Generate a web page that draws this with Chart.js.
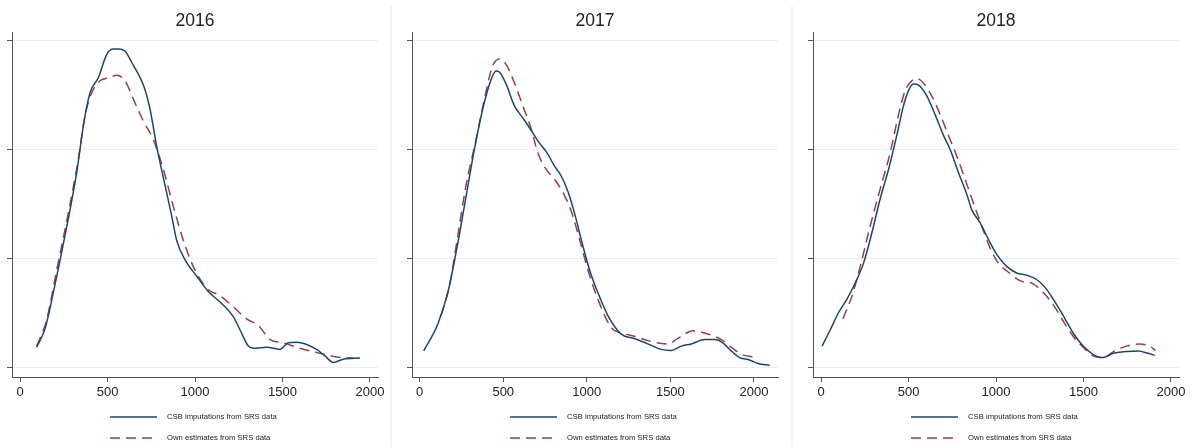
<!DOCTYPE html>
<html>
<head>
<meta charset="utf-8">
<script src="https://cdn.jsdelivr.net/npm/chart.js@4.4.1/dist/chart.umd.min.js"></script>
<style>
  html, body { margin: 0; padding: 0; background: #fff; }
  #wrap { position: relative; width: 1193px; height: 447px; overflow: hidden; }
  .panel { position: absolute; top: 0; height: 447px; }
  .sep { position: absolute; top: 6px; width: 2px; height: 441px; background: #eef3f4; }
</style>
</head>
<body>
<div id="wrap">
  <div class="panel" style="left:0;width:390px"><canvas id="c2016" width="390" height="447"></canvas></div>
  <div class="sep" style="left:390px"></div>
  <div class="panel" style="left:392px;width:399px"><canvas id="c2017" width="399" height="447"></canvas></div>
  <div class="sep" style="left:791px"></div>
  <div class="panel" style="left:793px;width:400px"><canvas id="c2018" width="400" height="447"></canvas></div>
</div>
<script>
// ==== Data (density curves, y in arbitrary units: gridlines at 0,1,2,3) ====
const years = ['2016', '2017', '2018'];
const seriesNames = ['CSB imputations from SRS data', 'Own estimates from SRS data'];
const xTicks = [0, 500, 1000, 1500, 2000];
const yTicks = [0, 1, 2, 3];

// 2016
const csbX2016 = [95, 143, 190, 248, 324, 362, 400, 448, 495, 533, 562, 600, 648, 686, 714, 743, 781, 829, 867, 895, 943, 1010, 1076, 1152, 1219, 1257, 1305, 1333, 1410, 1486, 1533, 1581, 1695, 1743, 1790, 1848, 1943];
const csbY2016 = [0.19, 0.36, 0.69, 1.14, 1.79, 2.22, 2.52, 2.66, 2.87, 2.92, 2.92, 2.90, 2.77, 2.66, 2.55, 2.37, 2.03, 1.67, 1.39, 1.17, 0.99, 0.84, 0.70, 0.59, 0.47, 0.35, 0.20, 0.18, 0.19, 0.17, 0.23, 0.235, 0.17, 0.11, 0.05, 0.08, 0.09];
const ownX2016 = [95, 152, 210, 276, 333, 371, 410, 457, 514, 552, 600, 648, 705, 762, 819, 876, 933, 990, 1067, 1143, 1219, 1295, 1362, 1429, 1505, 1600, 1714, 1810, 1905];
const ownY2016 = [0.20, 0.44, 0.90, 1.42, 1.91, 2.31, 2.52, 2.63, 2.66, 2.68, 2.63, 2.46, 2.26, 2.09, 1.82, 1.48, 1.17, 0.93, 0.73, 0.66, 0.56, 0.45, 0.39, 0.26, 0.23, 0.18, 0.135, 0.10, 0.09];

// 2017
const csbX2017 = [24, 108, 168, 218, 267, 327, 377, 427, 457, 477, 517, 567, 617, 657, 707, 766, 806, 846, 886, 926, 966, 1016, 1066, 1126, 1206, 1285, 1365, 1445, 1505, 1565, 1625, 1705, 1764, 1814, 1864, 1914, 1974, 2024, 2094];
const csbY2017 = [0.156, 0.40, 0.69, 1.06, 1.48, 2.00, 2.37, 2.64, 2.72, 2.71, 2.60, 2.40, 2.29, 2.20, 2.08, 1.96, 1.85, 1.76, 1.62, 1.42, 1.18, 0.90, 0.69, 0.48, 0.31, 0.27, 0.22, 0.17, 0.16, 0.20, 0.22, 0.26, 0.26, 0.23, 0.156, 0.095, 0.073, 0.04, 0.024];
const ownX2017 = [128, 178, 228, 277, 337, 387, 437, 477, 517, 567, 617, 667, 707, 756, 806, 856, 906, 956, 1006, 1066, 1146, 1206, 1285, 1365, 1485, 1545, 1635, 1725, 1804, 1864, 1924, 1994];
const ownY2017 = [0.48, 0.75, 1.21, 1.67, 2.09, 2.46, 2.77, 2.83, 2.78, 2.61, 2.40, 2.19, 1.97, 1.82, 1.73, 1.61, 1.44, 1.18, 0.90, 0.63, 0.37, 0.32, 0.29, 0.25, 0.22, 0.27, 0.34, 0.31, 0.26, 0.19, 0.125, 0.10];

// 2018
const csbX2018 = [6, 53, 101, 148, 196, 243, 291, 338, 386, 433, 471, 500, 528, 557, 605, 652, 700, 738, 785, 833, 861, 909, 956, 1004, 1061, 1118, 1175, 1232, 1279, 1327, 1384, 1441, 1498, 1555, 1612, 1669, 1745, 1812, 1869, 1907];
const csbY2018 = [0.20, 0.35, 0.51, 0.63, 0.78, 0.96, 1.24, 1.55, 1.82, 2.13, 2.40, 2.54, 2.60, 2.59, 2.49, 2.32, 2.13, 2.00, 1.79, 1.59, 1.45, 1.33, 1.18, 1.04, 0.93, 0.87, 0.85, 0.81, 0.74, 0.63, 0.48, 0.32, 0.20, 0.125, 0.095, 0.134, 0.15, 0.156, 0.134, 0.116];
const ownX2018 = [125, 177, 224, 281, 338, 395, 443, 481, 519, 547, 585, 633, 681, 728, 776, 823, 871, 918, 966, 1013, 1061, 1137, 1213, 1270, 1327, 1384, 1441, 1498, 1555, 1612, 1678, 1745, 1821, 1878, 1912];
const ownY2018 = [0.45, 0.66, 0.93, 1.30, 1.64, 1.97, 2.32, 2.54, 2.63, 2.65, 2.61, 2.49, 2.32, 2.13, 1.94, 1.73, 1.51, 1.30, 1.10, 0.96, 0.89, 0.80, 0.77, 0.69, 0.58, 0.43, 0.29, 0.19, 0.11, 0.095, 0.156, 0.20, 0.22, 0.20, 0.16];

// ==== Styles ====
const csbColor = '#1a476f';
const ownColor = '#9a3f45';
const axisColor = '#555555';
const gridColor = '#e9eff1';
const textColor = '#222222';
const fontFamily = '"Liberation Sans", Arial, sans-serif';

const toPoints = (xs, ys) => xs.map((x, i) => ({ x: x, y: ys[i] }));

// legend stacked under the plot, like the original
const stackedLegend = {
    id: 'stackedLegend',
    afterDraw(chart) {
        const ctx = chart.ctx;
        const area = chart.chartArea;
        const x0 = (area.left + area.right) / 2 - 85;
        ctx.save();
        chart.data.datasets.forEach((ds, i) => {
            const y = area.bottom + 40 + i * 21;
            ctx.strokeStyle = ds.borderColor;
            ctx.lineWidth = ds.borderWidth;
            ctx.setLineDash(ds.borderDash || []);
            ctx.beginPath();
            ctx.moveTo(x0, y);
            ctx.lineTo(x0 + 47, y);
            ctx.stroke();
            ctx.setLineDash([]);
            ctx.fillStyle = textColor;
            ctx.font = '7.7px ' + fontFamily;
            ctx.textBaseline = 'middle';
            ctx.textAlign = 'left';
            ctx.fillText(ds.label, x0 + 57, y);
        });
        ctx.restore();
    }
};

function makeChart(id, year, csb, own, xMax, padLeft, padRight) {
    const ctx = document.getElementById(id).getContext('2d');
    return new Chart(ctx, {
        type: 'line',
        data: {
            datasets: [{
                label: seriesNames[0],
                data: csb,
                borderColor: csbColor,
                borderWidth: 1.5,
                pointRadius: 0,
                cubicInterpolationMode: 'monotone',
                fill: false
            }, {
                label: seriesNames[1],
                data: own,
                borderColor: ownColor,
                borderWidth: 1.5,
                borderDash: [10, 6],
                pointRadius: 0,
                cubicInterpolationMode: 'monotone',
                fill: false
            }]
        },
        options: {
            responsive: false,
            animation: false,
            layout: { padding: { left: padLeft, right: padRight, top: 0, bottom: 46 } },
            plugins: {
                legend: { display: false },
                tooltip: { enabled: false },
                title: {
                    display: true,
                    text: year,
                    fullSize: false,
                    color: textColor,
                    font: { family: fontFamily, size: 17.5, weight: 'normal', lineHeight: 1.2 },
                    padding: { top: 11, bottom: 0.4 }
                }
            },
            scales: {
                x: {
                    type: 'linear',
                    min: -46,
                    max: xMax,
                    afterBuildTicks: s => { s.ticks = xTicks.map(v => ({ value: v })); },
                    afterFit: s => { s.height = 24; },
                    ticks: {
                        color: textColor,
                        padding: 3,
                        maxRotation: 0,
                        font: { family: fontFamily, size: 13 },
                        callback: v => String(v)
                    },
                    grid: { drawOnChartArea: false, drawTicks: true, tickLength: 5, tickColor: axisColor },
                    border: { color: axisColor, width: 1 }
                },
                y: {
                    min: -0.083,
                    max: 3.073,
                    afterBuildTicks: s => { s.ticks = yTicks.map(v => ({ value: v })); },
                    afterFit: s => { s.width = 5; },
                    ticks: { display: false },
                    grid: { color: gridColor, lineWidth: 1, drawTicks: true, tickLength: 5, tickColor: axisColor },
                    border: { color: axisColor, width: 1 }
                }
            }
        },
        plugins: [stackedLegend]
    });
}

makeChart('c2016', years[0], toPoints(csbX2016, csbY2016), toPoints(ownX2016, ownY2016), 2046, 7, 12);
makeChart('c2017', years[1], toPoints(csbX2017, csbY2017), toPoints(ownX2017, ownY2017), 2144, 15, 13);
makeChart('c2018', years[2], toPoints(csbX2018, csbY2018), toPoints(ownX2018, ownY2018), 2046, 15, 14);
</script>
</body>
</html>
